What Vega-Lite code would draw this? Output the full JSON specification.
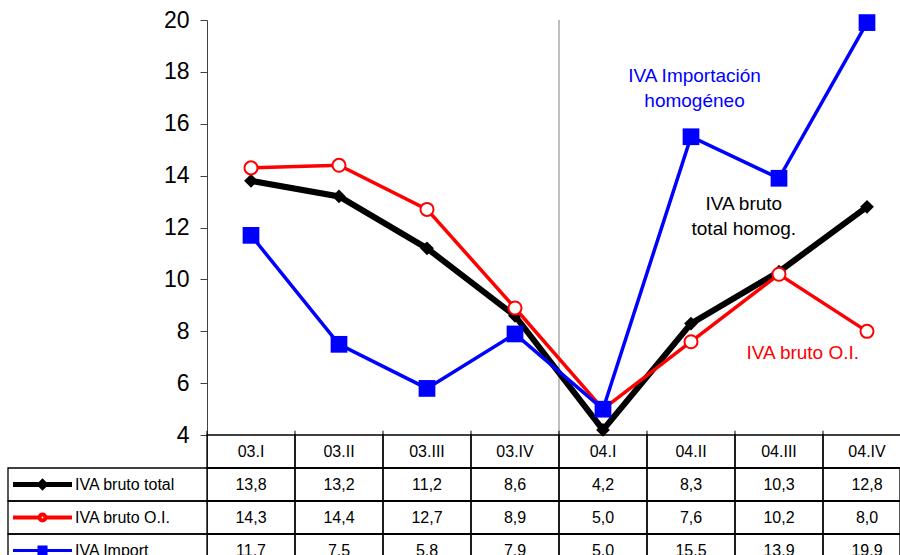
{
  "$schema": "https://vega.github.io/schema/vega-lite/v6.json",
  "width": 892,
  "height": 535,
  "autosize": {"type": "none"},
  "padding": {"left": 8, "top": 20, "right": 0, "bottom": 0},
  "background": "white",
  "config": {
    "view": {"stroke": null},
    "font": "Liberation Sans",
    "locale": {"number": {"decimal": ",", "thousands": ".", "grouping": [3], "currency": ["", " €"]}}
  },
  "data": {"values": [
    {"q": "03.I", "s": "IVA bruto total", "v": 13.8},
    {"q": "03.II", "s": "IVA bruto total", "v": 13.2},
    {"q": "03.III", "s": "IVA bruto total", "v": 11.2},
    {"q": "03.IV", "s": "IVA bruto total", "v": 8.6},
    {"q": "04.I", "s": "IVA bruto total", "v": 4.2},
    {"q": "04.II", "s": "IVA bruto total", "v": 8.3},
    {"q": "04.III", "s": "IVA bruto total", "v": 10.3},
    {"q": "04.IV", "s": "IVA bruto total", "v": 12.8},
    {"q": "03.I", "s": "IVA bruto O.I.", "v": 14.3},
    {"q": "03.II", "s": "IVA bruto O.I.", "v": 14.4},
    {"q": "03.III", "s": "IVA bruto O.I.", "v": 12.7},
    {"q": "03.IV", "s": "IVA bruto O.I.", "v": 8.9},
    {"q": "04.I", "s": "IVA bruto O.I.", "v": 5.0},
    {"q": "04.II", "s": "IVA bruto O.I.", "v": 7.6},
    {"q": "04.III", "s": "IVA bruto O.I.", "v": 10.2},
    {"q": "04.IV", "s": "IVA bruto O.I.", "v": 8.0},
    {"q": "03.I", "s": "IVA Import", "v": 11.7},
    {"q": "03.II", "s": "IVA Import", "v": 7.5},
    {"q": "03.III", "s": "IVA Import", "v": 5.8},
    {"q": "03.IV", "s": "IVA Import", "v": 7.9},
    {"q": "04.I", "s": "IVA Import", "v": 5.0},
    {"q": "04.II", "s": "IVA Import", "v": 15.5},
    {"q": "04.III", "s": "IVA Import", "v": 13.9},
    {"q": "04.IV", "s": "IVA Import", "v": 19.9}
  ]},
  "resolve": {"scale": {"y": "independent"}, "axis": {"y": "independent"}},
  "layer": [
    {
      "layer": [
        {
          "data": {"values": [{}]},
          "mark": {"type": "rule", "color": "#808080", "strokeWidth": 1},
          "encoding": {
            "x": {"datum": "04.I", "type": "nominal", "bandPosition": 0,
                  "scale": {"type": "band", "domain": ["03.I", "03.II", "03.III", "03.IV", "04.I", "04.II", "04.III", "04.IV"], "paddingInner": 0, "paddingOuter": 0, "range": [199, 903]},
                  "axis": null},
            "y": {"datum": 20, "type": "quantitative",
                  "scale": {"domain": [-0.62, 20], "nice": false, "zero": false},
                  "axis": {"title": null, "values": [4, 6, 8, 10, 12, 14, 16, 18, 20], "offset": -199, "grid": false,
                           "domainColor": "#404040", "domainWidth": 1, "tickColor": "#404040", "tickSize": 7, "tickWidth": 1,
                           "labelFontSize": 23, "labelColor": "black", "labelFont": "Liberation Sans", "labelPadding": 11}},
            "y2": {"datum": 4}
          }
        },
        {
          "transform": [{"filter": "datum.s === 'IVA bruto total'"}],
          "mark": {"type": "rule", "color": "black", "strokeWidth": 1},
          "encoding": {
            "x": {"field": "q", "type": "nominal", "bandPosition": 0},
            "y": {"datum": 4, "type": "quantitative"},
            "y2": {"datum": 4.17}
          }
        },
        {
          "transform": [{"filter": "datum.s === 'IVA bruto total'"}],
          "mark": {"type": "line", "color": "black", "strokeWidth": 6},
          "encoding": {
            "x": {"field": "q", "type": "nominal", "bandPosition": 0.5},
            "y": {"field": "v", "type": "quantitative"}
          }
        },
        {
          "transform": [{"filter": "datum.s === 'IVA bruto total'"}],
          "mark": {"type": "point", "shape": "diamond", "filled": true, "color": "black", "size": 190, "opacity": 1},
          "encoding": {
            "x": {"field": "q", "type": "nominal", "bandPosition": 0.5},
            "y": {"field": "v", "type": "quantitative"}
          }
        },
        {
          "transform": [{"filter": "datum.s === 'IVA bruto O.I.'"}],
          "mark": {"type": "line", "color": "#FF0000", "strokeWidth": 3.5},
          "encoding": {
            "x": {"field": "q", "type": "nominal", "bandPosition": 0.5},
            "y": {"field": "v", "type": "quantitative"}
          }
        },
        {
          "transform": [{"filter": "datum.s === 'IVA bruto O.I.'"}],
          "mark": {"type": "point", "shape": "circle", "filled": true, "fill": "white", "stroke": "#FF0000", "strokeWidth": 2, "size": 170, "opacity": 1},
          "encoding": {
            "x": {"field": "q", "type": "nominal", "bandPosition": 0.5},
            "y": {"field": "v", "type": "quantitative"}
          }
        },
        {
          "transform": [{"filter": "datum.s === 'IVA Import'"}],
          "mark": {"type": "line", "color": "#0000FF", "strokeWidth": 3.5},
          "encoding": {
            "x": {"field": "q", "type": "nominal", "bandPosition": 0.5},
            "y": {"field": "v", "type": "quantitative"}
          }
        },
        {
          "transform": [{"filter": "datum.s === 'IVA Import'"}],
          "mark": {"type": "point", "shape": "square", "filled": true, "color": "#0000FF", "size": 280, "opacity": 1},
          "encoding": {
            "x": {"field": "q", "type": "nominal", "bandPosition": 0.5},
            "y": {"field": "v", "type": "quantitative"}
          }
        },
        {
          "data": {"values": [{}]},
          "mark": {"type": "text", "text": ["IVA Importación", "homogéneo"], "color": "#0000FF", "fontSize": 19, "lineHeight": 25, "align": "center", "baseline": "middle", "font": "Liberation Sans"},
          "encoding": {
            "x": {"datum": "04.II", "type": "nominal", "bandPosition": 0.54},
            "y": {"datum": 17.84, "type": "quantitative"}
          }
        },
        {
          "data": {"values": [{}]},
          "mark": {"type": "text", "text": ["IVA bruto", "total homog."], "color": "black", "fontSize": 19, "lineHeight": 25, "align": "center", "baseline": "middle", "font": "Liberation Sans"},
          "encoding": {
            "x": {"datum": "04.III", "type": "nominal", "bandPosition": 0.1},
            "y": {"datum": 12.91, "type": "quantitative"}
          }
        },
        {
          "data": {"values": [{}]},
          "mark": {"type": "text", "text": "IVA bruto O.I.", "color": "#FF0000", "fontSize": 19, "align": "center", "baseline": "middle", "font": "Liberation Sans"},
          "encoding": {
            "x": {"datum": "04.III", "type": "nominal", "bandPosition": 0.77},
            "y": {"datum": 7.17, "type": "quantitative"}
          }
        }
      ]
    },
    {
      "layer": [
        {
          "mark": {"type": "rect", "fill": "white", "fillOpacity": 0, "stroke": "black", "strokeWidth": 1.3},
          "encoding": {
            "x": {"field": "q", "type": "nominal"},
            "y": {"field": "s", "type": "nominal",
                  "scale": {"type": "band", "domain": ["hdr", "IVA bruto total", "IVA bruto O.I.", "IVA Import"], "paddingInner": 0, "paddingOuter": 0, "range": [415, 547]},
                  "axis": null}
          }
        },
        {
          "transform": [{"filter": "datum.s === 'IVA bruto total'"}],
          "mark": {"type": "rect", "fill": "white", "fillOpacity": 0, "stroke": "black", "strokeWidth": 1.3},
          "encoding": {
            "x": {"field": "q", "type": "nominal"},
            "y": {"datum": "hdr", "type": "nominal"}
          }
        },
        {
          "transform": [{"filter": "datum.q === '03.I'"}],
          "mark": {"type": "rect", "fill": "white", "fillOpacity": 0, "stroke": "black", "strokeWidth": 1.3},
          "encoding": {
            "y": {"field": "s", "type": "nominal"}
          }
        },
        {
          "mark": {"type": "text", "fontSize": 16, "color": "black", "align": "center", "baseline": "middle", "font": "Liberation Sans"},
          "encoding": {
            "x": {"field": "q", "type": "nominal", "bandPosition": 0.5},
            "y": {"field": "s", "type": "nominal", "bandPosition": 0.5},
            "text": {"field": "v", "type": "quantitative", "format": ".1f"}
          }
        },
        {
          "transform": [{"filter": "datum.s === 'IVA bruto total'"}],
          "mark": {"type": "text", "fontSize": 16, "color": "black", "align": "center", "baseline": "middle", "font": "Liberation Sans"},
          "encoding": {
            "x": {"field": "q", "type": "nominal", "bandPosition": 0.5},
            "y": {"datum": "hdr", "type": "nominal", "bandPosition": 0.5},
            "text": {"field": "q", "type": "nominal"}
          }
        },
        {
          "transform": [{"filter": "false"}],
          "mark": {"type": "point", "filled": true, "opacity": 1},
          "encoding": {
            "shape": {"field": "s", "type": "nominal",
                      "scale": {"domain": ["IVA bruto total", "IVA bruto O.I.", "IVA Import"],
                                "range": ["M-1,0H1M0,-0.09L0.09,0L0,0.09L-0.09,0Z",
                                          "M-1,0H-0.1M0.1,0H1M0.1,0A0.1,0.1,0,1,1,-0.1,0A0.1,0.1,0,1,1,0.1,0Z",
                                          "M-1,0H1M-0.12,-0.12H0.12V0.12H-0.12Z"]},
                      "legend": {"title": null, "orient": "none", "legendX": 2.5, "legendY": 448, "padding": 0,
                                 "symbolSize": 3481, "clipHeight": 33, "rowPadding": 0, "symbolOffset": 0, "labelOffset": 0.5,
                                 "labelFontSize": 16, "labelColor": "black", "labelFont": "Liberation Sans", "labelLimit": 300,
                                 "symbolOpacity": 1}},
            "fill": {"field": "s", "type": "nominal",
                     "scale": {"domain": ["IVA bruto total", "IVA bruto O.I.", "IVA Import"], "range": ["black", "white", "#0000FF"]}},
            "stroke": {"field": "s", "type": "nominal",
                       "scale": {"domain": ["IVA bruto total", "IVA bruto O.I.", "IVA Import"], "range": ["black", "#FF0000", "#0000FF"]}},
            "strokeWidth": {"field": "s", "type": "nominal",
                            "scale": {"domain": ["IVA bruto total", "IVA bruto O.I.", "IVA Import"], "range": [5, 3, 3]}}
          }
        }
      ]
    }
  ]
}
